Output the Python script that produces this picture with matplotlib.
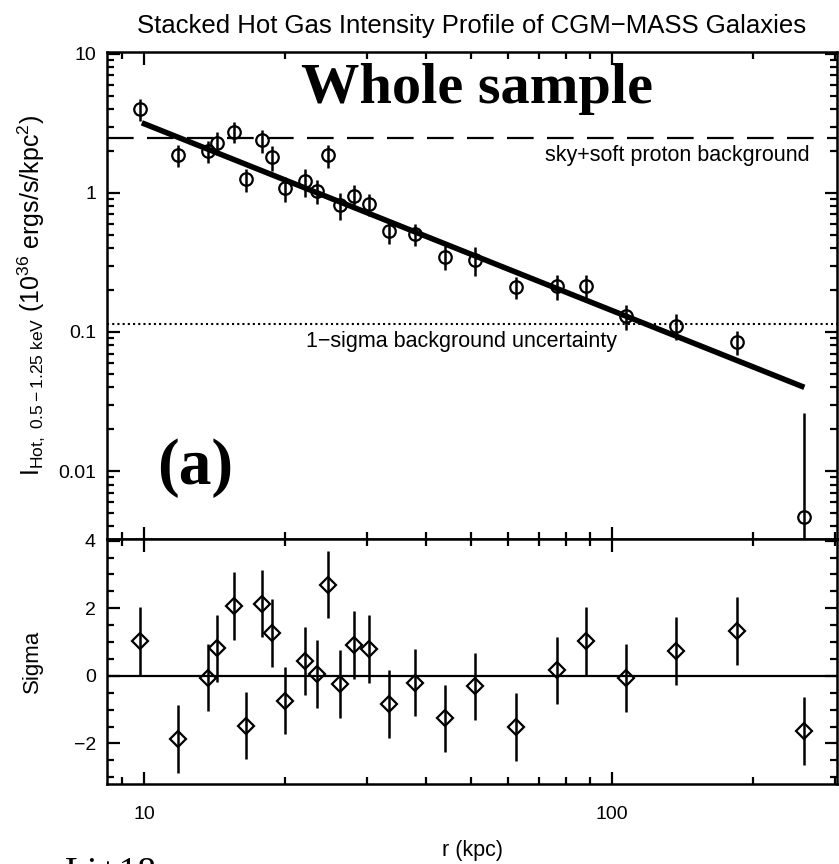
import matplotlib.pyplot as plt
from matplotlib.ticker import LogLocator, MultipleLocator, NullFormatter, FixedLocator, FixedFormatter

plt.rcParams['font.family'] = ['Liberation Sans', 'DejaVu Sans']
plt.rcParams['mathtext.fontset'] = 'custom'
plt.rcParams['mathtext.rm'] = 'Liberation Sans'
plt.rcParams['mathtext.it'] = 'Liberation Sans'

# radial bins (kpc)
r = [9.8, 11.8, 13.7, 14.3, 15.6, 16.5, 17.9, 18.8, 20.0, 22.1, 23.5, 24.8, 26.2,
     28.1, 30.3, 33.4, 37.9, 44.0, 50.9, 62.5, 76.4, 88.3, 107.5, 137.0, 185.0, 258.0]
# stacked intensity and 1-sigma errors
inten = [4.0, 1.87, 2.01, 2.30, 2.76, 1.25, 2.40, 1.80, 1.08, 1.21, 1.03, 1.87, 0.82,
         0.957, 0.834, 0.536, 0.507, 0.348, 0.330, 0.212, 0.214, 0.214, 0.130, 0.111, 0.085, 0.0047]
inten_err = [0.72, 0.34, 0.36, 0.42, 0.49, 0.24, 0.45, 0.36, 0.22, 0.28, 0.20, 0.35, 0.18,
             0.19, 0.155, 0.107, 0.095, 0.067, 0.077, 0.038, 0.045, 0.044, 0.026, 0.024, 0.017, 0.0215]
# residuals in units of sigma
resid = [1.04, -1.86, -0.05, 0.81, 2.07, -1.47, 2.14, 1.27, -0.73, 0.44, 0.06, 2.70, -0.24,
         0.91, 0.79, -0.83, -0.20, -1.26, -0.31, -1.51, 0.16, 1.03, -0.07, 0.74, 1.32, -1.64]
resid_err = [1.0] * len(r)

# best-fit power law (end points)
fit_r = [9.9, 258.0]
fit_i = [3.19, 0.040]

sky_bkg = 2.5
bkg_unc = 0.114

fig = plt.figure(figsize=(8.39, 8.64), dpi=100)
W, H = 839.0, 864.0
ax1 = fig.add_axes([107 / W, 1 - 539 / H, 730 / W, 487 / H])
ax2 = fig.add_axes([107 / W, 1 - 784 / H, 730 / W, 245 / H], sharex=ax1)

# top panel
ax1.errorbar(r, inten, yerr=inten_err, fmt='o', ms=9, mfc='none', mec='k', mew=1.6,
             ecolor='k', elinewidth=1.8, capsize=0)
ax1.plot(fit_r, fit_i, color='k', lw=4, solid_capstyle='butt')
ax1.axhline(sky_bkg, color='k', lw=1.6, dashes=(12, 6))
ax1.axhline(bkg_unc, color='k', lw=1.5, ls=(0, (1, 1.5)))
ax1.set_xscale('log')
ax1.set_yscale('log')
ax1.set_xlim(8.34, 303)
ax1.set_ylim(0.00325, 10.3)
ax1.text(477, H - 89, 'Whole sample', transform=None, ha='center', va='center',
         family='Liberation Serif', weight='bold', fontsize=42)
ax1.text(195, H - 468, '(a)', transform=None, ha='center', va='center',
         family='Liberation Serif', weight='bold', fontsize=47)
ax1.text(677, H - 155, 'sky+soft proton background', transform=None, ha='center', va='center',
         fontsize=15.5)
ax1.text(462, H - 341, '1\u2212sigma background uncertainty', transform=None, ha='center',
         va='center', fontsize=15.5)
ax1.set_ylabel(r'I$_{\rm Hot,\ 0.5-1.25\ keV}$ (10$^{36}$ ergs/s/kpc$^{2}$)', fontsize=18,
               labelpad=8)
ax1.yaxis.set_major_locator(FixedLocator([0.01, 0.1, 1, 10]))
ax1.yaxis.set_major_formatter(FixedFormatter(['0.01', '0.1', '1', '10']))
ax1.yaxis.set_minor_locator(LogLocator(base=10, subs=range(2, 10)))
ax1.yaxis.set_minor_formatter(NullFormatter())
ax1.set_title('Stacked Hot Gas Intensity Profile of CGM\u2212MASS Galaxies', fontsize=18.5, pad=14)
plt.setp(ax1.get_xticklabels(), visible=False)

# bottom panel
ax2.errorbar(r, resid, yerr=resid_err, fmt='D', ms=8.5, mfc='none', mec='k', mew=1.6,
             ecolor='k', elinewidth=1.8, capsize=0)
ax2.axhline(0, color='k', lw=1.6)
ax2.set_ylim(-3.2, 4.05)
ax2.yaxis.set_major_locator(MultipleLocator(2))
ax2.yaxis.set_minor_locator(MultipleLocator(0.5))
ax2.set_ylabel('Sigma', fontsize=16, labelpad=22)
ax2.set_xlabel('r (kpc)', fontsize=15.5, labelpad=12)
ax2.xaxis.set_major_locator(FixedLocator([10, 100]))
ax2.xaxis.set_major_formatter(FixedFormatter(['10', '100']))
ax2.xaxis.set_minor_locator(LogLocator(base=10, subs=range(2, 10)))
ax2.xaxis.set_minor_formatter(NullFormatter())

for ax in (ax1, ax2):
    for s in ax.spines.values():
        s.set_linewidth(1.8)
    ax.tick_params(which='both', direction='in', top=True, right=True, labelsize=14, width=1.6)
    ax.tick_params(which='major', length=9, pad=8)
    ax.tick_params(which='minor', length=5)
ax2.tick_params(axis='x', which='major', pad=16)

fig.text(65 / W, -0.022, 'Li+18', family='Liberation Serif', fontsize=27, ha='left', va='baseline')

plt.savefig('out.png', dpi=100)
